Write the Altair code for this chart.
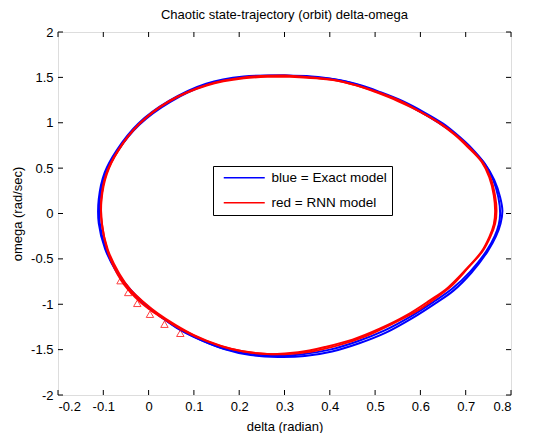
import altair as alt
import pandas as pd

# ---- tick values ----
x_ticks = [-0.2, -0.1, 0, 0.1, 0.2, 0.3, 0.4, 0.5, 0.6, 0.7, 0.8]
y_ticks = [-2, -1.5, -1, -0.5, 0, 0.5, 1, 1.5, 2]

series_names = ["blue = Exact model", "red = RNN model"]

# ---- exact model (blue), two passes of the orbit ----
blue1_delta = [0.30, 0.36, 0.41, 0.46, 0.50, 0.55, 0.60, 0.64, 0.68, 0.71, 0.74, 0.76, 0.772, 0.776, 0.773, 0.764, 0.745, 0.71, 0.67, 0.63, 0.58, 0.52, 0.46, 0.40, 0.34, 0.28, 0.22, 0.16, 0.10, 0.06, 0.02, -0.01, -0.04, -0.07, -0.095, -0.108, -0.108, -0.095, -0.068, -0.02, 0.048, 0.13, 0.21, 0.30]
blue1_omega = [1.52, 1.51, 1.48, 1.42, 1.35, 1.25, 1.12, 1.00, 0.86, 0.72, 0.56, 0.38, 0.18, 0.00, -0.12, -0.25, -0.42, -0.64, -0.83, -0.97, -1.13, -1.29, -1.41, -1.50, -1.55, -1.57, -1.54, -1.48, -1.36, -1.25, -1.11, -0.99, -0.84, -0.64, -0.38, -0.10, 0.15, 0.44, 0.69, 0.98, 1.23, 1.42, 1.50, 1.52]

blue2_delta = [0.30, 0.36, 0.42, 0.47, 0.51, 0.56, 0.61, 0.65, 0.685, 0.715, 0.742, 0.763, 0.776, 0.781, 0.777, 0.767, 0.748, 0.713, 0.673, 0.633, 0.583, 0.525, 0.465, 0.405, 0.345, 0.285, 0.225, 0.165, 0.105, 0.062, 0.022, -0.01, -0.04, -0.07, -0.096, -0.11, -0.11, -0.097, -0.07, -0.023, 0.045, 0.127, 0.21, 0.30]
blue2_omega = [1.52, 1.50, 1.47, 1.41, 1.34, 1.24, 1.11, 0.99, 0.85, 0.71, 0.55, 0.37, 0.18, 0.03, -0.11, -0.25, -0.42, -0.65, -0.85, -0.99, -1.15, -1.31, -1.43, -1.52, -1.57, -1.58, -1.56, -1.49, -1.37, -1.26, -1.12, -1.00, -0.85, -0.65, -0.39, -0.11, 0.16, 0.45, 0.70, 0.99, 1.24, 1.43, 1.51, 1.52]

# ---- RNN model (red), two passes of the orbit ----
red1_delta = [0.30, 0.36, 0.41, 0.46, 0.50, 0.55, 0.60, 0.64, 0.675, 0.705, 0.735, 0.752, 0.762, 0.765, 0.762, 0.752, 0.735, 0.70, 0.66, 0.62, 0.57, 0.51, 0.45, 0.39, 0.33, 0.27, 0.21, 0.16, 0.10, 0.06, 0.02, -0.01, -0.04, -0.065, -0.09, -0.103, -0.104, -0.092, -0.066, -0.02, 0.046, 0.13, 0.21, 0.30]
red1_omega = [1.52, 1.50, 1.47, 1.41, 1.34, 1.24, 1.12, 1.00, 0.87, 0.73, 0.57, 0.40, 0.20, 0.02, -0.12, -0.26, -0.42, -0.62, -0.82, -0.96, -1.12, -1.27, -1.39, -1.47, -1.53, -1.55, -1.52, -1.46, -1.34, -1.23, -1.10, -0.98, -0.84, -0.66, -0.40, -0.12, 0.15, 0.44, 0.70, 0.99, 1.24, 1.42, 1.50, 1.52]

red2_delta = [0.30, 0.37, 0.42, 0.46, 0.51, 0.56, 0.60, 0.645, 0.68, 0.71, 0.738, 0.755, 0.765, 0.768, 0.765, 0.755, 0.738, 0.705, 0.67, 0.64, 0.60, 0.54, 0.48, 0.42, 0.36, 0.30, 0.24, 0.18, 0.12, 0.07, 0.03, 0.00, -0.03, -0.06, -0.088, -0.102, -0.105, -0.094, -0.068, -0.022, 0.044, 0.128, 0.21, 0.30]
red2_omega = [1.51, 1.49, 1.46, 1.41, 1.33, 1.23, 1.12, 0.99, 0.86, 0.72, 0.56, 0.39, 0.19, 0.03, -0.11, -0.25, -0.41, -0.60, -0.79, -0.91, -1.05, -1.21, -1.35, -1.45, -1.52, -1.55, -1.54, -1.49, -1.39, -1.27, -1.15, -1.05, -0.92, -0.74, -0.45, -0.15, 0.13, 0.43, 0.69, 0.98, 1.23, 1.41, 1.49, 1.51]

# ---- small red triangle artefacts on the lower-left arc ----
tri_delta = [-0.062, -0.045, -0.025, 0.003, 0.035, 0.07]
tri_omega = [-0.74, -0.87, -0.99, -1.11, -1.22, -1.32]

W, H = 453, 363


def loop(series, run, d, w):
    return pd.DataFrame({"delta": d, "omega": w, "series": series,
                         "run": run, "i": list(range(len(d)))})


blue_df = pd.concat([loop(series_names[0], "b1", blue1_delta, blue1_omega),
                     loop(series_names[0], "b2", blue2_delta, blue2_omega)])
red_df = pd.concat([loop(series_names[1], "r1", red1_delta, red1_omega),
                    loop(series_names[1], "r2", red2_delta, red2_omega)])
tri_df = pd.DataFrame({"delta": tri_delta, "omega": tri_omega})
xt = pd.DataFrame({"delta": x_ticks})
yt = pd.DataFrame({"omega": y_ticks})

FONT = "Liberation Sans"

xs = alt.Scale(domain=[-0.2, 0.8], nice=False, zero=False)
ys = alt.Scale(domain=[-2, 2], nice=False, zero=False)

color = alt.Color(
    "series:N",
    scale=alt.Scale(domain=series_names, range=["#0000ff", "#ff0000"]),
    legend=alt.Legend(
        title=None, orient="none", legendX=155, legendY=134,
        symbolType="M-0.2,0H8", symbolSize=100, symbolStrokeWidth=1.3,
        labelFontSize=13.5, labelFont=FONT, labelColor="black", labelOffset=40,
        padding=5, rowPadding=10, strokeColor="black", fillColor="white",
    ),
)

LABEL_EXPR = "replace(format(datum.value, ''), '\u2212', '-')"

axis_common = dict(grid=False, ticks=False, domain=False,
                   labelFont=FONT, labelFontSize=13, labelColor="black",
                   titleFont=FONT, titleFontSize=13, titleFontWeight="normal",
                   titleColor="black", labelExpr=LABEL_EXPR)
x_axis = alt.Axis(values=x_ticks, labelPadding=5, titlePadding=7, **axis_common)
y_axis = alt.Axis(values=y_ticks, labelPadding=5, titlePadding=6, **axis_common)

x_enc = alt.X("delta:Q", scale=xs, title="delta (radian)", axis=x_axis)
y_enc = alt.Y("omega:Q", scale=ys, title="omega (rad/sec)", axis=y_axis)

blue = alt.Chart(blue_df).mark_line(strokeWidth=2, interpolate="catmull-rom").encode(
    x=x_enc, y=y_enc, color=color, detail="run:N", order="i:Q")
red = alt.Chart(red_df).mark_line(strokeWidth=2, interpolate="catmull-rom").encode(
    x=x_enc, y=y_enc, color=color, detail="run:N", order="i:Q")
tri = alt.Chart(tri_df).mark_point(shape="triangle-up", filled=False, size=55,
                                   strokeWidth=1, opacity=0.75).encode(
    x=x_enc, y=y_enc, color=alt.value("#ff0000"))

tick_style = dict(color="black", strokeWidth=1)
xb = alt.Chart(xt).mark_rule(**tick_style).encode(
    x=x_enc, y=alt.value(H), y2=alt.value(H - 5))
xtop = alt.Chart(xt).mark_rule(**tick_style).encode(
    x=x_enc, y=alt.value(0), y2=alt.value(5))
yl = alt.Chart(yt).mark_rule(**tick_style).encode(
    y=y_enc, x=alt.value(0), x2=alt.value(5))
yr = alt.Chart(yt).mark_rule(**tick_style).encode(
    y=y_enc, x=alt.value(W), x2=alt.value(W - 5))

chart = alt.layer(blue, red, tri, xb, xtop, yl, yr).properties(
    width=W, height=H,
    title=alt.TitleParams("Chaotic state-trajectory (orbit) delta-omega",
                          font=FONT, fontSize=13, fontWeight="normal",
                          color="black", offset=4, anchor="middle"),
    autosize=alt.AutoSizeParams(type="none"),
    padding={"left": 50, "top": 24, "right": 15, "bottom": 38},
).configure_view(stroke="black", strokeWidth=1).configure(background="white")

chart.save("out.html", embed_options={"renderer": "svg", "actions": False})
